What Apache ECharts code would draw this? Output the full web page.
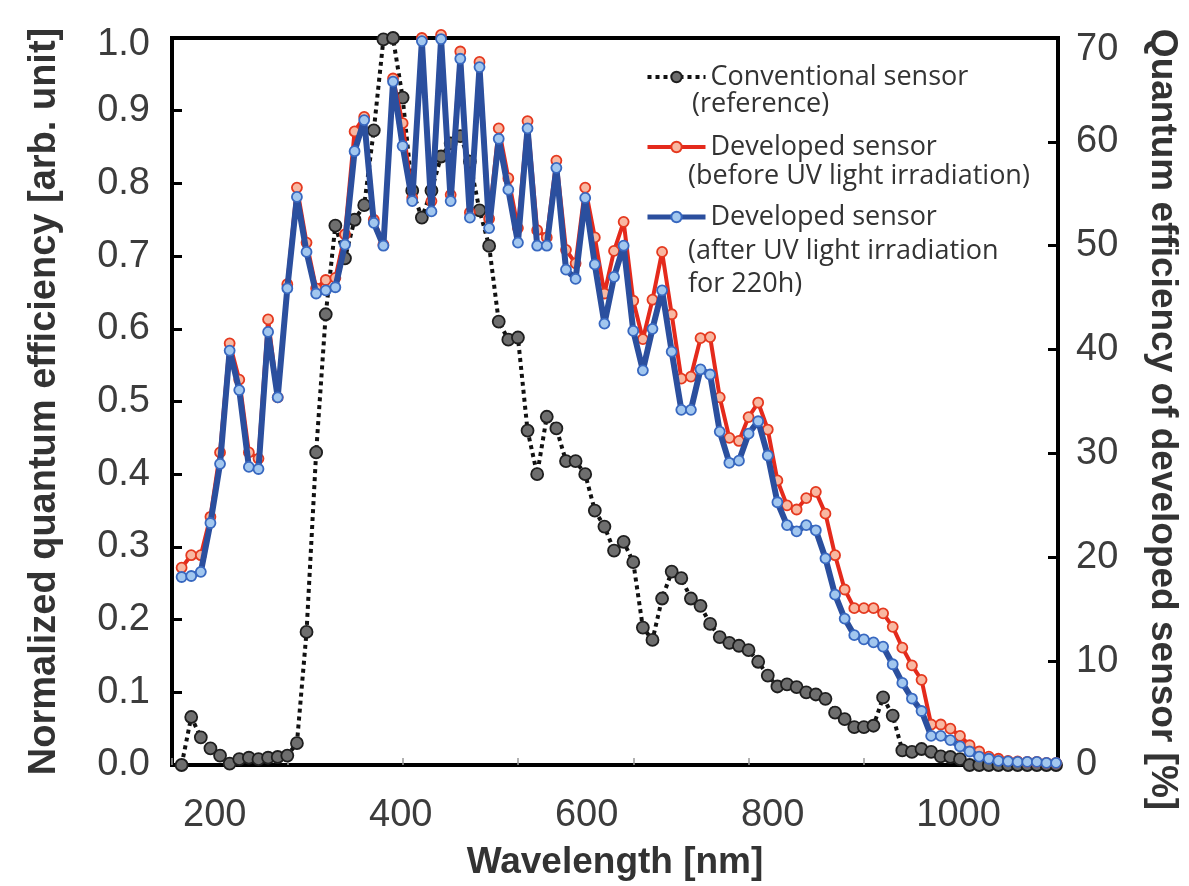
<!DOCTYPE html>
<html>
<head>
<meta charset="utf-8">
<script src="https://cdn.jsdelivr.net/npm/echarts@6/dist/echarts.min.js"></script>
<style>html,body{margin:0;padding:0;background:#fff}#c{width:1189px;height:886px}</style>
</head>
<body>
<div id="c"></div>
<script>
// Wavelength of each measured point (nm)
const wavelengths = [190,200,210,220,230,240,250,260,270,280,290,300,310,320,330,340,350,360,370,380,390,400,410,420,430,440,450,460,470,480,490,500,510,520,530,540,550,560,570,580,590,600,610,620,630,640,650,660,670,680,690,700,710,720,730,740,750,760,770,780,790,800,810,820,830,840,850,860,870,880,890,900,910,920,930,940,950,960,970,980,990,1000,1010,1020,1030,1040,1050,1060,1070,1080,1090,1100];

// Conventional sensor (reference), normalized QE [arb. unit]
const conventional = [0.0,0.066,0.038,0.023,0.013,0.002,0.008,0.01,0.008,0.01,
0.011,0.013,0.03,0.183,0.43,0.62,0.742,0.697,0.75,0.77,
0.873,0.998,1.0,0.918,0.79,0.753,0.79,0.837,0.855,0.865,
0.83,0.763,0.714,0.61,0.585,0.588,0.46,0.40,0.479,0.463,
0.418,0.418,0.40,0.35,0.328,0.295,0.307,0.279,0.189,0.172,
0.229,0.266,0.257,0.229,0.219,0.194,0.176,0.168,0.164,0.158,
0.142,0.123,0.108,0.111,0.107,0.10,0.097,0.091,0.072,0.063,
0.052,0.052,0.054,0.093,0.068,0.02,0.018,0.022,0.018,0.012,
0.011,0.008,0.0,0.0,0.0,0.0,0.0,0.0,0.0,0.0,
0.0,0.0];

// Developed sensor before UV irradiation, QE [%]
const beforeUV = [19.0,20.2,20.2,23.9,30.1,40.6,37.1,30.1,29.5,42.9,
35.4,46.3,55.6,50.3,45.9,46.7,46.9,51.1,61.0,62.4,
52.5,50.1,66.1,61.8,54.6,70.0,54.3,70.3,54.9,68.7,
53.2,67.7,52.6,61.3,56.5,51.7,62.0,51.5,50.8,58.2,
49.6,48.3,55.6,50.8,45.4,49.5,52.3,44.7,41.0,44.8,
49.4,43.4,37.2,37.4,41.1,41.2,35.4,31.5,31.2,33.5,
34.9,32.3,27.4,25.0,24.6,25.7,26.3,24.2,20.2,16.9,
15.1,15.1,15.1,14.6,13.3,11.3,9.6,8.2,3.9,3.9,
3.5,2.8,1.9,1.3,0.8,0.6,0.4,0.35,0.3,0.3,
0.2,0.2];

// Developed sensor after UV irradiation for 220 h, QE [%]
const afterUV = [18.1,18.2,18.6,23.3,29.0,39.9,36.1,28.7,28.5,41.7,
35.4,45.9,54.7,49.4,45.4,45.7,46.0,50.1,59.1,62.1,
52.2,50.0,65.8,59.6,54.3,69.7,53.3,69.9,54.3,68.0,
52.7,67.2,51.7,60.3,55.4,50.3,61.3,50.0,50.0,57.5,
47.7,46.8,54.6,48.2,42.5,47.0,50.0,41.8,38.0,42.0,
45.7,39.8,34.2,34.2,38.1,37.6,32.1,29.1,29.3,31.9,
33.1,29.8,25.3,23.1,22.5,23.1,22.6,19.9,16.4,14.1,
12.5,12.1,11.8,11.4,9.7,7.9,6.4,5.2,2.8,2.8,
2.4,1.8,1.3,0.8,0.6,0.4,0.35,0.3,0.3,0.3,
0.2,0.2];

const xTickLabels = [200,400,600,800,1000];
const seriesNames = ['Conventional sensor','Developed sensor','Developed sensor '];
const legendSecondLines = ['(reference)','(before UV light irradiation)','(after UV light irradiation','for 220h)'];

const pairs = arr => wavelengths.map((w,i)=>[w, arr[i]]);
const tickFont = 'Liberation Sans, Arial, sans-serif';
const legendFont = '27px "Open Sans"';

const chart = echarts.init(document.getElementById('c'), null, {renderer:'canvas'});
chart.setOption({
  animation:false,
  backgroundColor:'#fff',
  grid:{left:172, right:122, top:38, bottom:115, show:true, borderColor:'#000', borderWidth:4, backgroundColor:'transparent'},
  xAxis:[
    {type:'value', position:'bottom', min:180, max:1102, interval:120,
     axisLine:{show:false}, splitLine:{show:false}, axisLabel:{show:false},
     axisTick:{show:true, inside:true, length:7, lineStyle:{color:'#9a9a9a', width:1.5}}},
    {type:'value', position:'bottom', min:154, max:1107,
     axisLine:{show:true, lineStyle:{color:'#000', width:4}}, splitLine:{show:false},
     axisTick:{show:false},
     axisLabel:{customValues:xTickLabels, formatter:v=>String(v), fontSize:38, color:'#3c3c3c', fontFamily:tickFont, margin:32},
     name:'Wavelength [nm]', nameLocation:'middle', nameGap:79,
     nameTextStyle:{fontSize:37, fontWeight:'bold', color:'#333', fontFamily:tickFont}}
  ],
  yAxis:[
    {type:'value', position:'left', min:0, max:1, interval:0.1,
     axisLine:{show:true, lineStyle:{color:'#000', width:4}}, splitLine:{show:false},
     axisTick:{show:true, inside:true, length:10, lineStyle:{color:'#000', width:3}},
     axisLabel:{formatter:v=>(v>=0.999 ? '{top|' + v.toFixed(1) + '}' : v.toFixed(1)),
       rich:{top:{fontSize:38, color:'#3c3c3c', fontFamily:tickFont, padding:[14,0,0,0]}},
       fontSize:38, color:'#3c3c3c', fontFamily:tickFont, margin:22},
     name:'Normalized quantum efficiency [arb. unit]', nameLocation:'middle', nameGap:108, nameRotate:90,
     nameTextStyle:{fontSize:38, fontWeight:'bold', color:'#333', fontFamily:tickFont}},
    {type:'value', position:'right', min:0, max:70, interval:10,
     axisLine:{show:true, lineStyle:{color:'#000', width:4}}, splitLine:{show:false},
     axisTick:{show:true, inside:true, length:10, lineStyle:{color:'#000', width:3}},
     axisLabel:{formatter:v=>(v>=70 ? '{top|' + v + '}' : String(v)),
       rich:{top:{fontSize:38, color:'#3c3c3c', fontFamily:tickFont, padding:[24,0,0,0]}},
       fontSize:38, color:'#3c3c3c', fontFamily:tickFont, margin:18},
     name:'Quantum efficiency of developed sensor [%]', nameLocation:'middle', nameGap:86, nameRotate:-90,
     nameTextStyle:{fontSize:37, fontWeight:'bold', color:'#333', fontFamily:tickFont, padding:[0,0,0,36]}}
  ],
  legend:{left:640, top:57, orient:'vertical', itemWidth:58, itemHeight:13, itemGap:40,
    textStyle:{fontFamily:'Open Sans', fontSize:27, color:'#333', lineHeight:30},
    data:[
      {name:seriesNames[0], lineStyle:{width:4, type:'dotted', color:'#111'}},
      {name:seriesNames[1], lineStyle:{width:4, color:'#e42a1c'}},
      {name:seriesNames[2], lineStyle:{width:5, color:'#2b4f9e'}}
    ]},
  graphic:[
    {type:'text', x:692, y:104, style:{text:legendSecondLines[0], font:legendFont, fill:'#333', verticalAlign:'middle'}},
    {type:'text', x:688, y:176, style:{text:legendSecondLines[1], font:legendFont, fill:'#333', verticalAlign:'middle'}},
    {type:'text', x:688, y:251, style:{text:legendSecondLines[2], font:legendFont, fill:'#333', verticalAlign:'middle'}},
    {type:'text', x:688, y:284, style:{text:legendSecondLines[3], font:legendFont, fill:'#333', verticalAlign:'middle'}}
  ],
  series:[
    {name:seriesNames[0], type:'line', xAxisIndex:0, yAxisIndex:0, data:pairs(conventional), clip:false, z:2,
     symbol:'circle', symbolSize:12, showAllSymbol:true,
     lineStyle:{color:'#111', width:4, type:'dotted'},
     itemStyle:{color:'#6e6e6e', borderColor:'#1e1e1e', borderWidth:1.8}},
    {name:seriesNames[1], type:'line', xAxisIndex:0, yAxisIndex:1, data:pairs(beforeUV), clip:false, z:3,
     symbol:'circle', symbolSize:10, showAllSymbol:true,
     lineStyle:{color:'#e42a1c', width:4},
     itemStyle:{color:'#f8b8a2', borderColor:'#e5391f', borderWidth:1.8}},
    {name:seriesNames[2], type:'line', xAxisIndex:0, yAxisIndex:1, data:pairs(afterUV), clip:false, z:4,
     symbol:'circle', symbolSize:10, showAllSymbol:true,
     lineStyle:{color:'#2b4f9e', width:6},
     itemStyle:{color:'#a2c7ef', borderColor:'#3868c0', borderWidth:1.8}}
  ]
});
</script>
</body>
</html>
